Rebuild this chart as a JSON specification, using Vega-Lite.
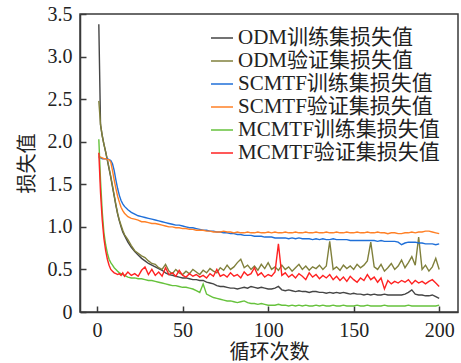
{
  "$schema": "https://vega.github.io/schema/vega-lite/v6.json",
  "width": 378,
  "height": 298,
  "autosize": "none",
  "padding": {"left": 80, "top": 14, "right": 3, "bottom": 51},
  "background": "white",
  "config": {
    "font": "Liberation Serif, Noto Sans CJK SC",
    "view": {"stroke": "#3a3a3a", "strokeWidth": 1.5},
    "axis": {
      "grid": false,
      "domainColor": "#3a3a3a",
      "domainWidth": 1.5,
      "tickColor": "#3a3a3a",
      "tickWidth": 1.5,
      "tickSize": -6,
      "labelFont": "Liberation Serif",
      "labelFontSize": 20,
      "labelColor": "#222",
      "titleFont": "Liberation Serif, Noto Sans CJK SC",
      "titleFontSize": 20,
      "titleFontWeight": "normal",
      "titleColor": "#222"
    }
  },
  "data": {
    "values": [
      {"e":1,"a":3.38,"b":2.48,"c":1.82,"d":1.83,"f":2.03,"g":1.87},
      {"e":2,"a":2.2,"b":2.2,"c":1.81,"d":1.82,"f":1.55,"g":1.4},
      {"e":3,"a":2.07,"b":2.07,"c":1.8,"d":1.81,"f":1.18,"g":1.08},
      {"e":4,"a":1.97,"b":1.97,"c":1.8,"d":1.8,"f":0.93,"g":0.86},
      {"e":5,"a":1.88,"b":1.88,"c":1.8,"d":1.8,"f":0.79,"g":0.72},
      {"e":6,"a":1.78,"b":1.79,"c":1.8,"d":1.79,"f":0.69,"g":0.62},
      {"e":7,"a":1.68,"b":1.69,"c":1.79,"d":1.79,"f":0.62,"g":0.55},
      {"e":8,"a":1.58,"b":1.59,"c":1.78,"d":1.76,"f":0.58,"g":0.5},
      {"e":9,"a":1.47,"b":1.48,"c":1.74,"d":1.66,"f":0.55,"g":0.48},
      {"e":10,"a":1.36,"b":1.37,"c":1.66,"d":1.55,"f":0.52,"g":0.46},
      {"e":11,"a":1.25,"b":1.26,"c":1.55,"d":1.45,"f":0.5,"g":0.45},
      {"e":12,"a":1.15,"b":1.16,"c":1.45,"d":1.36,"f":0.48,"g":0.44},
      {"e":13,"a":1.07,"b":1.08,"c":1.37,"d":1.29,"f":0.46,"g":0.45},
      {"e":14,"a":1.0,"b":1.02,"c":1.31,"d":1.23,"f":0.45,"g":0.43},
      {"e":15,"a":0.94,"b":0.96,"c":1.27,"d":1.19,"f":0.44,"g":0.46},
      {"e":16,"a":0.9,"b":0.91,"c":1.24,"d":1.16,"f":0.43,"g":0.42},
      {"e":18,"a":0.82,"b":0.85,"c":1.2,"d":1.12,"f":0.41,"g":0.47},
      {"e":20,"a":0.76,"b":0.78,"c":1.17,"d":1.1,"f":0.4,"g":0.43},
      {"e":22,"a":0.71,"b":0.72,"c":1.15,"d":1.09,"f":0.4,"g":0.45},
      {"e":24,"a":0.67,"b":0.69,"c":1.13,"d":1.08,"f":0.39,"g":0.42},
      {"e":26,"a":0.63,"b":0.66,"c":1.12,"d":1.06,"f":0.39,"g":0.49},
      {"e":28,"a":0.6,"b":0.64,"c":1.11,"d":1.06,"f":0.38,"g":0.53},
      {"e":30,"a":0.57,"b":0.6,"c":1.1,"d":1.05,"f":0.37,"g":0.44},
      {"e":32,"a":0.55,"b":0.57,"c":1.09,"d":1.04,"f":0.37,"g":0.5},
      {"e":34,"a":0.53,"b":0.56,"c":1.08,"d":1.04,"f":0.36,"g":0.43},
      {"e":36,"a":0.51,"b":0.52,"c":1.07,"d":1.03,"f":0.35,"g":0.47},
      {"e":38,"a":0.49,"b":0.5,"c":1.06,"d":1.02,"f":0.34,"g":0.42},
      {"e":40,"a":0.46,"b":0.56,"c":1.05,"d":1.01,"f":0.33,"g":0.52},
      {"e":42,"a":0.44,"b":0.48,"c":1.04,"d":1.0,"f":0.32,"g":0.44},
      {"e":44,"a":0.43,"b":0.45,"c":1.03,"d":1.0,"f":0.31,"g":0.46},
      {"e":46,"a":0.42,"b":0.5,"c":1.02,"d":0.99,"f":0.31,"g":0.42},
      {"e":48,"a":0.41,"b":0.46,"c":1.02,"d":0.99,"f":0.3,"g":0.49},
      {"e":50,"a":0.4,"b":0.44,"c":1.01,"d":0.98,"f":0.29,"g":0.43},
      {"e":52,"a":0.4,"b":0.48,"c":1.0,"d":0.98,"f":0.29,"g":0.41},
      {"e":54,"a":0.39,"b":0.45,"c":0.99,"d":0.97,"f":0.28,"g":0.45},
      {"e":56,"a":0.38,"b":0.5,"c":0.99,"d":0.97,"f":0.27,"g":0.42},
      {"e":58,"a":0.38,"b":0.47,"c":0.98,"d":0.96,"f":0.25,"g":0.44},
      {"e":60,"a":0.37,"b":0.44,"c":0.97,"d":0.96,"f":0.23,"g":0.41},
      {"e":62,"a":0.37,"b":0.49,"c":0.96,"d":0.96,"f":0.33,"g":0.43},
      {"e":64,"a":0.35,"b":0.46,"c":0.96,"d":0.95,"f":0.21,"g":0.4},
      {"e":66,"a":0.34,"b":0.51,"c":0.95,"d":0.95,"f":0.19,"g":0.45},
      {"e":68,"a":0.33,"b":0.48,"c":0.95,"d":0.94,"f":0.17,"g":0.42},
      {"e":70,"a":0.31,"b":0.46,"c":0.94,"d":0.94,"f":0.16,"g":0.5},
      {"e":72,"a":0.3,"b":0.52,"c":0.94,"d":0.94,"f":0.15,"g":0.42},
      {"e":74,"a":0.3,"b":0.49,"c":0.93,"d":0.95,"f":0.14,"g":0.44},
      {"e":76,"a":0.29,"b":0.55,"c":0.93,"d":0.94,"f":0.13,"g":0.41},
      {"e":78,"a":0.28,"b":0.5,"c":0.92,"d":0.94,"f":0.13,"g":0.46},
      {"e":80,"a":0.28,"b":0.53,"c":0.92,"d":0.93,"f":0.12,"g":0.42},
      {"e":82,"a":0.27,"b":0.58,"c":0.91,"d":0.94,"f":0.11,"g":0.44},
      {"e":84,"a":0.28,"b":0.62,"c":0.91,"d":0.93,"f":0.12,"g":0.4},
      {"e":86,"a":0.29,"b":0.52,"c":0.9,"d":0.93,"f":0.13,"g":0.47},
      {"e":88,"a":0.28,"b":0.55,"c":0.9,"d":0.94,"f":0.11,"g":0.43},
      {"e":90,"a":0.3,"b":0.5,"c":0.9,"d":0.93,"f":0.1,"g":0.45},
      {"e":92,"a":0.29,"b":0.54,"c":0.89,"d":0.93,"f":0.1,"g":0.52},
      {"e":94,"a":0.28,"b":0.49,"c":0.89,"d":0.94,"f":0.09,"g":0.43},
      {"e":96,"a":0.29,"b":0.56,"c":0.89,"d":0.93,"f":0.1,"g":0.46},
      {"e":98,"a":0.28,"b":0.51,"c":0.88,"d":0.93,"f":0.09,"g":0.41},
      {"e":100,"a":0.27,"b":0.58,"c":0.88,"d":0.94,"f":0.08,"g":0.44},
      {"e":102,"a":0.27,"b":0.5,"c":0.88,"d":0.93,"f":0.08,"g":0.42},
      {"e":104,"a":0.28,"b":0.53,"c":0.87,"d":0.94,"f":0.08,"g":0.47},
      {"e":106,"a":0.3,"b":0.49,"c":0.87,"d":0.93,"f":0.09,"g":0.8},
      {"e":108,"a":0.26,"b":0.55,"c":0.87,"d":0.93,"f":0.08,"g":0.43},
      {"e":110,"a":0.25,"b":0.5,"c":0.87,"d":0.94,"f":0.08,"g":0.46},
      {"e":112,"a":0.26,"b":0.53,"c":0.86,"d":0.93,"f":0.07,"g":0.41},
      {"e":114,"a":0.25,"b":0.48,"c":0.87,"d":0.93,"f":0.08,"g":0.44},
      {"e":116,"a":0.24,"b":0.52,"c":0.86,"d":0.94,"f":0.07,"g":0.4},
      {"e":118,"a":0.25,"b":0.56,"c":0.87,"d":0.93,"f":0.08,"g":0.45},
      {"e":120,"a":0.24,"b":0.5,"c":0.86,"d":0.93,"f":0.07,"g":0.42},
      {"e":122,"a":0.24,"b":0.54,"c":0.86,"d":0.94,"f":0.08,"g":0.38},
      {"e":124,"a":0.23,"b":0.49,"c":0.86,"d":0.93,"f":0.07,"g":0.46},
      {"e":126,"a":0.24,"b":0.53,"c":0.85,"d":0.93,"f":0.07,"g":0.41},
      {"e":128,"a":0.24,"b":0.51,"c":0.86,"d":0.94,"f":0.08,"g":0.44},
      {"e":130,"a":0.23,"b":0.55,"c":0.85,"d":0.93,"f":0.07,"g":0.39},
      {"e":132,"a":0.23,"b":0.5,"c":0.86,"d":0.93,"f":0.08,"g":0.43},
      {"e":134,"a":0.22,"b":0.54,"c":0.85,"d":0.94,"f":0.07,"g":0.4},
      {"e":136,"a":0.23,"b":0.83,"c":0.85,"d":0.93,"f":0.07,"g":0.44},
      {"e":138,"a":0.22,"b":0.5,"c":0.86,"d":0.93,"f":0.08,"g":0.38},
      {"e":140,"a":0.23,"b":0.53,"c":0.85,"d":0.94,"f":0.07,"g":0.42},
      {"e":142,"a":0.22,"b":0.49,"c":0.85,"d":0.93,"f":0.07,"g":0.37},
      {"e":144,"a":0.23,"b":0.55,"c":0.85,"d":0.93,"f":0.08,"g":0.41},
      {"e":146,"a":0.22,"b":0.51,"c":0.85,"d":0.94,"f":0.07,"g":0.36},
      {"e":148,"a":0.21,"b":0.54,"c":0.84,"d":0.93,"f":0.07,"g":0.42},
      {"e":150,"a":0.22,"b":0.5,"c":0.84,"d":0.93,"f":0.07,"g":0.38},
      {"e":152,"a":0.21,"b":0.56,"c":0.84,"d":0.94,"f":0.08,"g":0.35},
      {"e":154,"a":0.21,"b":0.52,"c":0.84,"d":0.93,"f":0.07,"g":0.4},
      {"e":156,"a":0.2,"b":0.55,"c":0.84,"d":0.93,"f":0.07,"g":0.37},
      {"e":158,"a":0.21,"b":0.6,"c":0.84,"d":0.94,"f":0.08,"g":0.44},
      {"e":160,"a":0.2,"b":0.82,"c":0.84,"d":0.93,"f":0.07,"g":0.38},
      {"e":162,"a":0.21,"b":0.53,"c":0.84,"d":0.93,"f":0.07,"g":0.41},
      {"e":164,"a":0.2,"b":0.5,"c":0.83,"d":0.94,"f":0.07,"g":0.35},
      {"e":166,"a":0.2,"b":0.56,"c":0.84,"d":0.93,"f":0.07,"g":0.4},
      {"e":168,"a":0.21,"b":0.48,"c":0.83,"d":0.93,"f":0.08,"g":0.27},
      {"e":170,"a":0.2,"b":0.52,"c":0.83,"d":0.92,"f":0.07,"g":0.37},
      {"e":172,"a":0.2,"b":0.57,"c":0.83,"d":0.93,"f":0.07,"g":0.33},
      {"e":174,"a":0.2,"b":0.5,"c":0.83,"d":0.93,"f":0.07,"g":0.36},
      {"e":176,"a":0.2,"b":0.54,"c":0.82,"d":0.92,"f":0.07,"g":0.34},
      {"e":178,"a":0.2,"b":0.61,"c":0.79,"d":0.92,"f":0.07,"g":0.37},
      {"e":180,"a":0.21,"b":0.52,"c":0.81,"d":0.93,"f":0.07,"g":0.35},
      {"e":182,"a":0.23,"b":0.58,"c":0.82,"d":0.93,"f":0.08,"g":0.38},
      {"e":184,"a":0.26,"b":0.65,"c":0.82,"d":0.94,"f":0.07,"g":0.33},
      {"e":186,"a":0.21,"b":0.55,"c":0.82,"d":0.93,"f":0.07,"g":0.37},
      {"e":188,"a":0.2,"b":0.88,"c":0.81,"d":0.94,"f":0.07,"g":0.34},
      {"e":190,"a":0.2,"b":0.5,"c":0.81,"d":0.94,"f":0.07,"g":0.36},
      {"e":192,"a":0.19,"b":0.55,"c":0.8,"d":0.95,"f":0.07,"g":0.33},
      {"e":194,"a":0.19,"b":0.48,"c":0.8,"d":0.95,"f":0.07,"g":0.36},
      {"e":196,"a":0.2,"b":0.53,"c":0.8,"d":0.94,"f":0.07,"g":0.38},
      {"e":198,"a":0.18,"b":0.63,"c":0.79,"d":0.93,"f":0.07,"g":0.34},
      {"e":200,"a":0.16,"b":0.5,"c":0.8,"d":0.92,"f":0.08,"g":0.3}
    ]
  },
  "transform": [{"fold": ["a", "b", "c", "d", "f", "g"], "as": ["k", "v"]}],
  "mark": {"type": "line", "strokeWidth": 1.4, "clip": true},
  "encoding": {
    "x": {
      "field": "e",
      "type": "quantitative",
      "title": "循环次数",
      "scale": {"domain": [-10, 211], "nice": false, "zero": false},
      "axis": {"values": [0, 50, 100, 150, 200], "labelPadding": 14, "titlePadding": 2}
    },
    "y": {
      "field": "v",
      "type": "quantitative",
      "title": "损失值",
      "scale": {"domain": [0, 3.5], "nice": false},
      "axis": {
        "values": [0, 0.5, 1, 1.5, 2, 2.5, 3, 3.5],
        "labelExpr": "datum.value == 0 ? '0' : format(datum.value, '.1f')",
        "labelPadding": 14,
        "titlePadding": 10
      }
    },
    "color": {
      "field": "k",
      "type": "nominal",
      "scale": {
        "domain": ["a", "b", "c", "d", "f", "g"],
        "range": ["#454545", "#80803c", "#1f6fd8", "#ff8026", "#66c23c", "#ff2222"]
      },
      "legend": {
        "title": null,
        "orient": "none",
        "legendX": 130,
        "legendY": 12,
        "symbolType": "stroke",
        "symbolSize": 484,
        "symbolStrokeWidth": 1.5,
        "labelFont": "Liberation Serif, Noto Sans CJK SC",
        "labelFontSize": 21,
        "labelColor": "#222",
        "labelOffset": 4,
        "labelLimit": 0,
        "rowPadding": 1,
        "labelExpr": "datum.label == 'a' ? 'ODM训练集损失值' : datum.label == 'b' ? 'ODM验证集损失值' : datum.label == 'c' ? 'SCMTF训练集损失值' : datum.label == 'd' ? 'SCMTF验证集损失值' : datum.label == 'f' ? 'MCMTF训练集损失值' : 'MCMTF验证集损失值'"
      }
    }
  }
}
